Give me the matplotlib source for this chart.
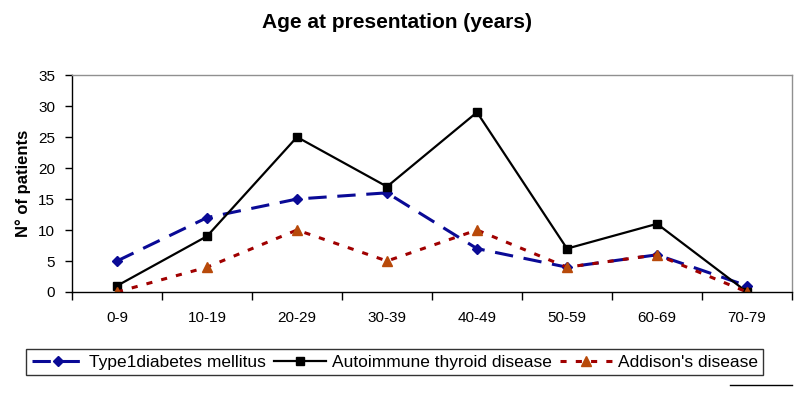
import matplotlib.pyplot as plt
import numpy as np
from matplotlib.lines import Line2D

plt.rcParams['font.family'] = ['Liberation Sans', 'DejaVu Sans']

age_groups = ['0-9', '10-19', '20-29', '30-39', '40-49', '50-59', '60-69', '70-79']
t1d = [5, 12, 15, 16, 7, 4, 6, 1]
aitd = [1, 9, 25, 17, 29, 7, 11, 0]
addison = [0, 4, 10, 5, 10, 4, 6, 0]

fig = plt.figure(figsize=(8, 3.93), dpi=100)
ax = fig.add_axes([0.09, 0.257, 0.90, 0.552])
x = np.arange(len(age_groups))

ax.plot(x, t1d, color='#0a0a96', lw=2.2, dashes=(6, 3.5), marker='D', ms=5.5,
        mfc='#0a0a96', mec='#0a0a96', label='Type1diabetes mellitus')
ax.plot(x, aitd, color='black', lw=1.6, marker='s', ms=6,
        mfc='black', mec='black', label='Autoimmune thyroid disease')
ax.plot(x, addison, color='#a00000', lw=2.2, dashes=(2, 3), marker='^', ms=7.5,
        mfc='#b84a0a', mec='#b84a0a', label="Addison's disease")

ax.set_xlim(-0.5, len(age_groups) - 0.5)
ax.set_ylim(0, 35)
ax.set_yticks(range(0, 36, 5))
ax.set_xticks(x)
ax.set_xticklabels(age_groups, fontsize=11)
ax.set_xticks(np.arange(-0.5, len(age_groups)), minor=True)
ax.tick_params(axis='x', which='major', length=0, pad=14)
ax.tick_params(axis='x', which='minor', length=6, direction='out', width=1)
ax.tick_params(axis='y', length=5, direction='out', labelsize=11, width=1, pad=7)
ax.set_ylabel('N° of patients', fontsize=12, fontweight='bold', labelpad=5)

for s in ['top', 'right']:
    ax.spines[s].set_color('#909090')
    ax.spines[s].set_linewidth(1)
for s in ['left', 'bottom']:
    ax.spines[s].set_color('black')
    ax.spines[s].set_linewidth(1)

fig.text(0.496, 0.944, 'Age at presentation (years)', ha='center', va='center',
         fontsize=15, fontweight='bold')

leg = ax.legend(loc='center', bbox_to_anchor=(0.448, -0.323), ncol=3,
                fontsize=12.5, frameon=True, fancybox=False, edgecolor='black',
                handlelength=3, handletextpad=0.3, columnspacing=0.5,
                borderpad=0.3, borderaxespad=0)
leg.get_frame().set_linewidth(1)

# short rule in the lower right corner
fig.add_artist(Line2D([0.913, 0.99], [0.02, 0.02], color='black', lw=1))

fig.savefig('out.png', dpi=100)
